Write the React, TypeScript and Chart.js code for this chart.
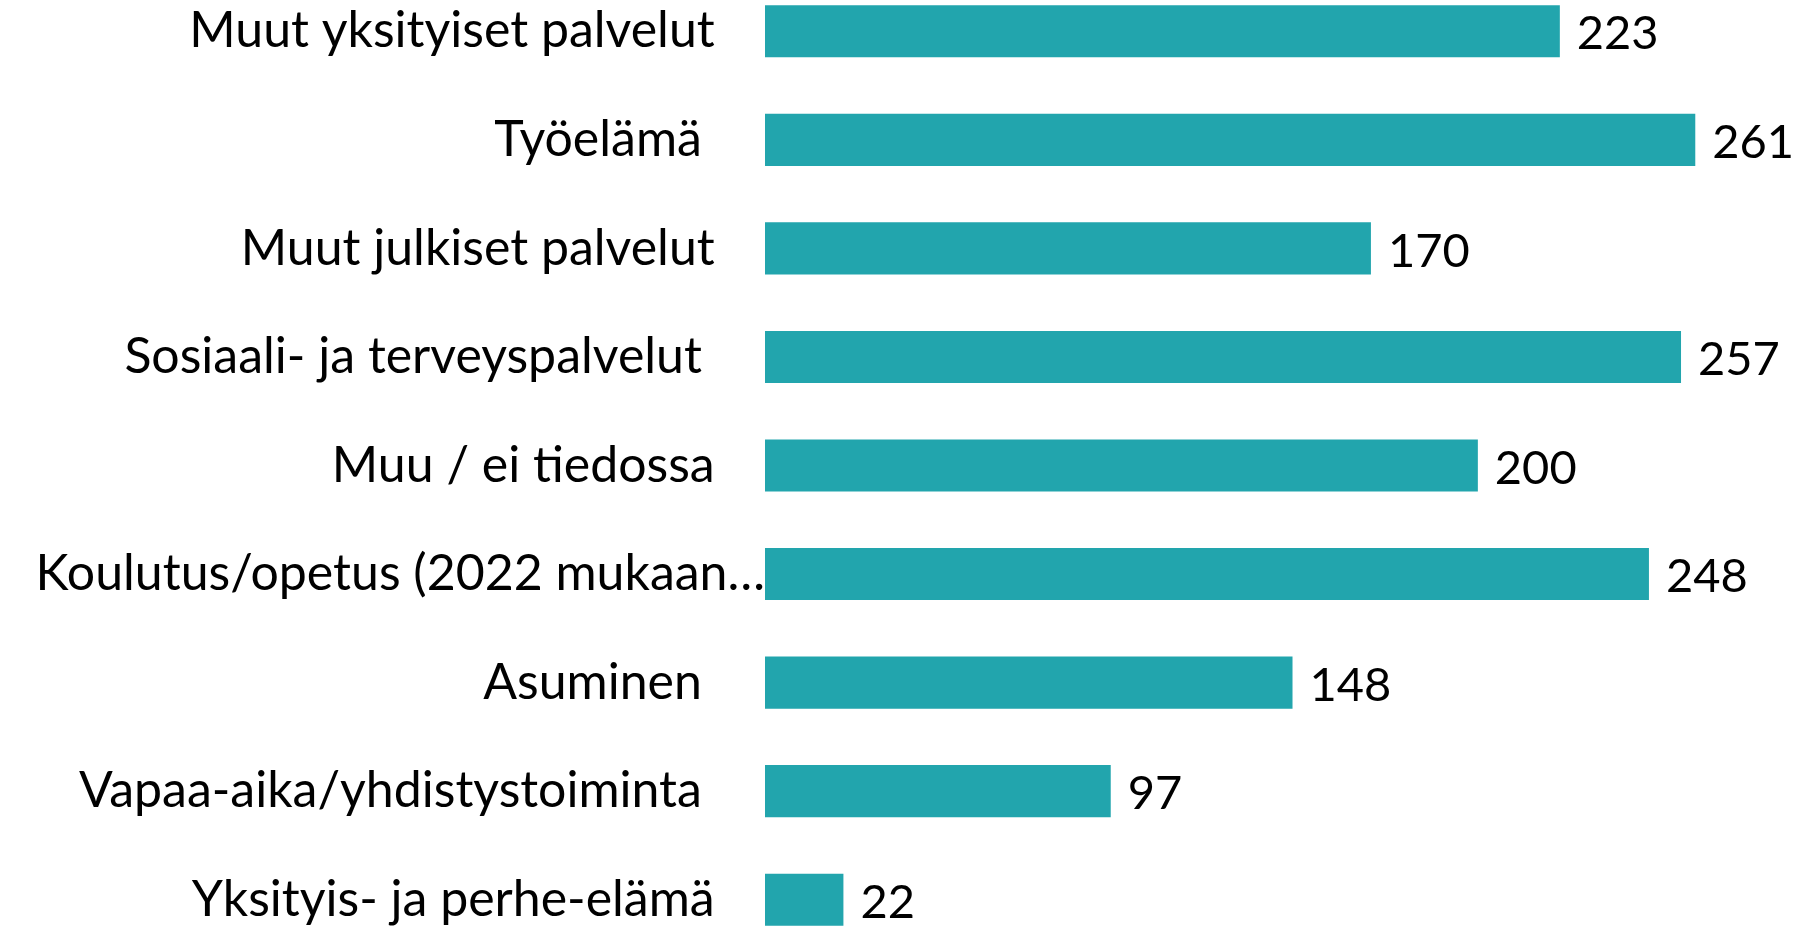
import React, { useEffect, useRef } from "react";
import { Chart, registerables } from "chart.js";

Chart.register(...registerables);

const categories = [
  "Muut yksityiset palvelut",
  "Työelämä ",
  "Muut julkiset palvelut",
  "Sosiaali- ja terveyspalvelut ",
  "Muu / ei tiedossa",
  "Koulutus/opetus (2022 mukaan…",
  "Asuminen ",
  "Vapaa-aika/yhdistystoiminta ",
  "Yksityis- ja perhe-elämä",
];
const values = [223, 261, 170, 257, 200, 248, 148, 97, 22];
const truncatedIndex = 5;

const FONT_FAMILY = "Lato, 'Noto Sans', sans-serif";
const FONT_SIZE = 50;
const VALUE_FONT_SIZE = 47;
const BAR_COLOR = "#22A5AD";

const valueLabels = {
  id: "valueLabels",
  afterDatasetsDraw(chart: any) {
    const ctx = chart.ctx;
    const meta = chart.getDatasetMeta(0);
    ctx.save();
    ctx.font = `${VALUE_FONT_SIZE}px ${FONT_FAMILY}`;
    ctx.fillStyle = "#000";
    ctx.textAlign = "left";
    ctx.textBaseline = "middle";
    meta.data.forEach((el: any, i: number) => {
      ctx.fillText(String(values[i]), el.x + 17, el.y + 3);
    });
    ctx.restore();
  },
};

export default function App() {
  const ref = useRef<HTMLCanvasElement | null>(null);
  useEffect(() => {
    document.body.style.margin = "0";
    document.body.style.overflow = "hidden";
    const chart = new Chart(ref.current!, {
      type: "bar",
      data: {
        labels: categories,
        datasets: [
          {
            data: values,
            backgroundColor: BAR_COLOR,
            barPercentage: 0.48,
            categoryPercentage: 1,
          },
        ],
      },
      options: {
        indexAxis: "y",
        animation: false,
        responsive: true,
        maintainAspectRatio: false,
        layout: { padding: { left: 0, right: 33, top: 0, bottom: 0 } },
        plugins: {
          legend: { display: false },
          tooltip: { enabled: false },
        },
        scales: {
          x: {
            min: 0,
            max: 280,
            display: false,
          },
          y: {
            grid: { display: false, drawTicks: false },
            border: { display: false },
            afterFit(scale: any) {
              scale.width = 765;
              scale.paddingTop = 0;
              scale.paddingBottom = 0;
            },
            ticks: {
              padding: 0,
              color: "#000",
              autoSkip: false,
              font: { family: FONT_FAMILY, size: FONT_SIZE },
              callback(_v: any, i: number) {
                const lbl = categories[i];
                return i === truncatedIndex ? lbl : lbl + "\u2003 ";
              },
            },
          },
        },
      },
      plugins: [valueLabels],
    });
    return () => chart.destroy();
  }, []);
  return (
    <div
      style={{
        position: "absolute",
        left: 0,
        top: -23,
        width: 1796,
        height: 977,
      }}
    >
      <canvas ref={ref} />
    </div>
  );
}
